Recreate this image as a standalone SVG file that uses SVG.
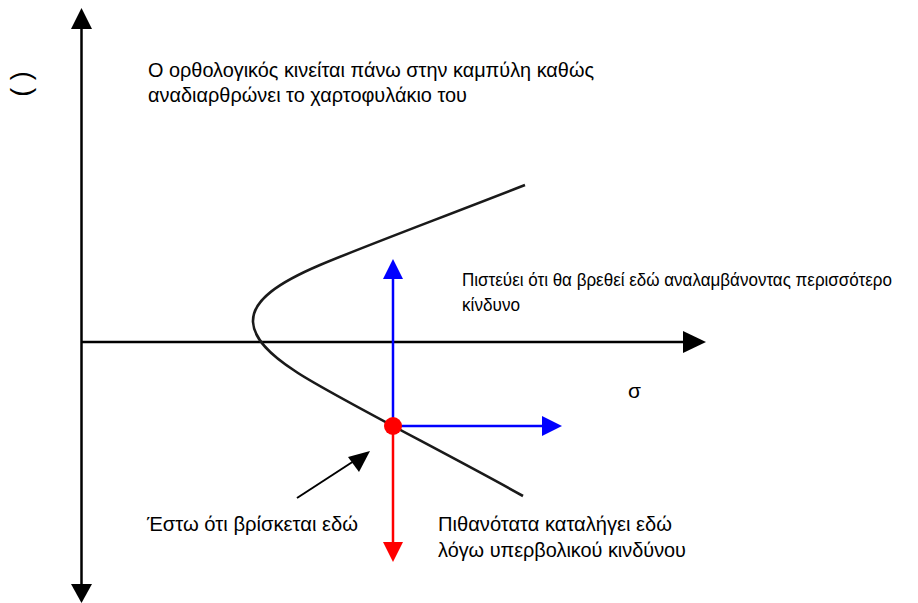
<svg xmlns="http://www.w3.org/2000/svg" width="918" height="603" viewBox="0 0 918 603">
<style>
text{font-family:"Liberation Sans",Arial,sans-serif;fill:#000;}
.t{font-size:21px;}
.s{font-size:17.5px;}
.ax{stroke:#000;stroke-width:2.5;fill:none;}
</style>
<rect width="918" height="603" fill="#fff"/>
<g id="axes">
<line class="ax" x1="81.5" y1="26" x2="81.5" y2="586"/>
<polygon points="81.5,8 71,29 92,29" fill="#000"/>
<polygon points="81.5,603 71,584 92,584" fill="#000"/>
<line class="ax" x1="81" y1="342" x2="685" y2="342"/>
<polygon points="706,342 683,331 683,353" fill="#000"/>
</g>
<g id="curve">
<path d="M525,185 C430,222 360,248 320,265 C280,282 252,300 253,322 C254,340 272,356 295,371 C325,392 450,455 523,496" fill="none" stroke="#1a1a1a" stroke-width="2.6"/>
</g>
<g id="connectors">
<line x1="393" y1="278" x2="393" y2="426" stroke="#00f" stroke-width="2.5"/>
<polygon points="393,259 383,279 403,279" fill="#00f"/>
<line x1="393" y1="426" x2="544" y2="426" stroke="#00f" stroke-width="2.5"/>
<polygon points="562,426 542,416 542,436" fill="#00f"/>
<line x1="393" y1="426" x2="393" y2="544" stroke="#f00" stroke-width="2.5"/>
<polygon points="393,562 383,542 403,542" fill="#f00"/>
<line x1="297" y1="498" x2="357" y2="459" stroke="#000" stroke-width="2"/>
<polygon points="370,451 348,457 359,472" fill="#000"/>
</g>
<g id="point">
<circle cx="393" cy="426" r="9" fill="#f00"/>
</g>
<g id="labels">
<text transform="translate(30,84) rotate(-90)" text-anchor="middle" font-size="27" font-weight="300">(  )</text>
<text class="t" x="148" y="77" textLength="446" lengthAdjust="spacingAndGlyphs">Ο ορθολογικός κινείται πάνω στην καμπύλη καθώς</text>
<text class="t" x="148" y="102" textLength="319" lengthAdjust="spacingAndGlyphs">αναδιαρθρώνει το χαρτοφυλάκιο του</text>
<text class="s" x="462" y="286" textLength="430" lengthAdjust="spacingAndGlyphs">Πιστεύει ότι θα βρεθεί εδώ αναλαμβάνοντας περισσότερο</text>
<text class="s" x="462" y="311" textLength="58" lengthAdjust="spacingAndGlyphs">κίνδυνο</text>
<text class="t" x="628" y="398">σ</text>
<text class="t" x="147" y="531" textLength="211" lengthAdjust="spacingAndGlyphs">Έστω ότι βρίσκεται εδώ</text>
<text class="t" x="438" y="531" textLength="234" lengthAdjust="spacingAndGlyphs">Πιθανότατα καταλήγει εδώ</text>
<text class="t" x="438" y="557" textLength="248" lengthAdjust="spacingAndGlyphs">λόγω υπερβολικού κινδύνου</text>
</g>
</svg>
